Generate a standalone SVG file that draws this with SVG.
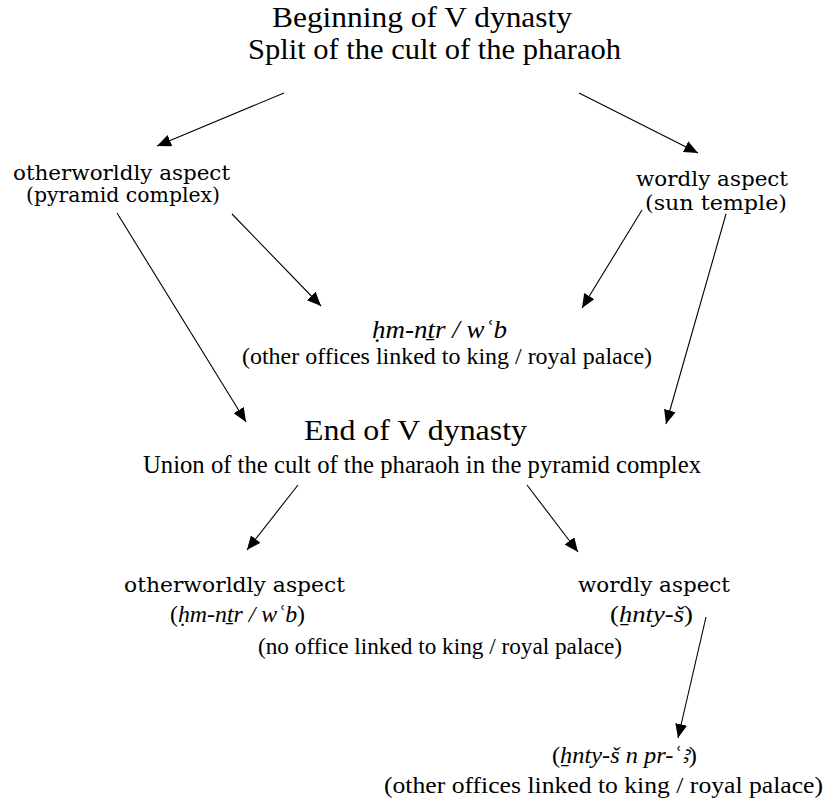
<svg xmlns="http://www.w3.org/2000/svg" width="829" height="805" viewBox="0 0 829 805">
<style>
.t{font-family:"Liberation Serif","Times New Roman",serif;fill:#000}
.c{font-family:"DejaVu Serif","Liberation Serif",serif;fill:#000}
.i{font-style:italic}
.ln{stroke:#000;stroke-width:1.1;fill:none}
</style>
<defs>
<marker id="ah" markerUnits="userSpaceOnUse" markerWidth="14" markerHeight="12" refX="14" refY="6" orient="auto">
<path d="M0,0 L14,6 L0,12 z" fill="#000"/>
</marker>
</defs>
<rect width="829" height="805" fill="#fff"/>
<g id="connectors">
<line class="ln" x1="284" y1="93" x2="157" y2="146" marker-end="url(#ah)"/>
<line class="ln" x1="579" y1="93" x2="698" y2="153" marker-end="url(#ah)"/>
<line class="ln" x1="232" y1="214" x2="321" y2="306" marker-end="url(#ah)"/>
<line class="ln" x1="642" y1="210" x2="582" y2="308" marker-end="url(#ah)"/>
<line class="ln" x1="117" y1="213" x2="246" y2="422" marker-end="url(#ah)"/>
<line class="ln" x1="726" y1="214" x2="666" y2="424" marker-end="url(#ah)"/>
<line class="ln" x1="298" y1="485" x2="247" y2="550" marker-end="url(#ah)"/>
<line class="ln" x1="527" y1="485" x2="578" y2="552" marker-end="url(#ah)"/>
<line class="ln" x1="706" y1="617" x2="678" y2="738" marker-end="url(#ah)"/>
</g>
<g id="start">
<text class="t" x="272" y="27" font-size="30" textLength="300" lengthAdjust="spacingAndGlyphs">Beginning of V dynasty</text>
<text class="t" x="248" y="59" font-size="30" textLength="373" lengthAdjust="spacingAndGlyphs">Split of the cult of the pharaoh</text>
</g>
<g id="otherworldly1">
<text class="c" x="13" y="180" font-size="21" textLength="217" lengthAdjust="spacingAndGlyphs">otherworldly aspect</text>
<text class="c" x="26" y="202" font-size="21" textLength="194" lengthAdjust="spacingAndGlyphs">(pyramid complex)</text>
</g>
<g id="wordly1">
<text class="c" x="636" y="186" font-size="21" textLength="152" lengthAdjust="spacingAndGlyphs">wordly aspect</text>
<text class="c" x="645" y="210" font-size="21" textLength="142" lengthAdjust="spacingAndGlyphs">(sun temple)</text>
</g>
<g id="offices1">
<text class="t i" x="372" y="338" font-size="26" textLength="135" lengthAdjust="spacingAndGlyphs">ḥm-nṯr / wʿb</text>
<text class="t" x="242" y="364" font-size="24" textLength="410" lengthAdjust="spacingAndGlyphs">(other offices linked to king / royal palace)</text>
</g>
<g id="end">
<text class="t" x="304" y="440" font-size="30" textLength="223" lengthAdjust="spacingAndGlyphs">End of V dynasty</text>
<text class="t" x="143" y="473" font-size="26" textLength="558" lengthAdjust="spacingAndGlyphs">Union of the cult of the pharaoh in the pyramid complex</text>
</g>
<g id="otherworldly2">
<text class="c" x="124" y="592" font-size="21" textLength="221" lengthAdjust="spacingAndGlyphs">otherworldly aspect</text>
<text class="t" x="170" y="622" font-size="23" textLength="135" lengthAdjust="spacingAndGlyphs">(<tspan class="i">ḥm-nṯr / wʿb</tspan>)</text>
<text class="t" x="258" y="654" font-size="23" textLength="364" lengthAdjust="spacingAndGlyphs">(no office linked to king / royal palace)</text>
</g>
<g id="wordly2">
<text class="c" x="578" y="592" font-size="21" textLength="152" lengthAdjust="spacingAndGlyphs">wordly aspect</text>
<text class="t" x="610" y="622" font-size="23" textLength="83" lengthAdjust="spacingAndGlyphs">(<tspan class="i">ẖnty-š</tspan>)</text>
</g>
<g id="offices2">
<text class="t" x="552" y="763" font-size="23" textLength="145" lengthAdjust="spacingAndGlyphs">(<tspan class="i">ẖnty-š n pr-ʿꜣ</tspan>)</text>
<text class="t" x="384" y="793" font-size="24" textLength="439" lengthAdjust="spacingAndGlyphs">(other offices linked to king / royal palace)</text>
</g>
</svg>
